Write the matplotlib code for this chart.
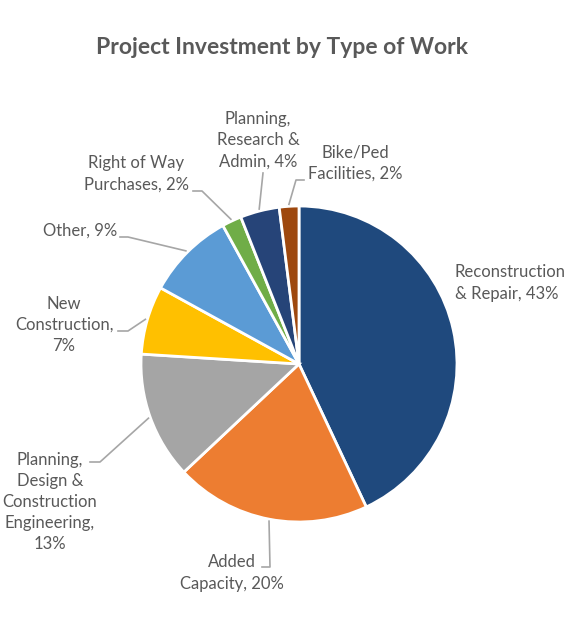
import numpy as np
import matplotlib.pyplot as plt

plt.rcParams['font.family'] = ['Lato', 'DejaVu Sans']

categories = ['Reconstruction\n& Repair, 43%', 'Added\nCapacity, 20%',
              'Planning,\nDesign &\nConstruction\nEngineering,\n13%',
              'New\nConstruction,\n7%', 'Other, 9%',
              'Right of Way\nPurchases, 2%', 'Planning,\nResearch &\nAdmin, 4%',
              'Bike/Ped\nFacilities, 2%']
shares = [43, 20, 13, 7, 9, 2, 4, 2]
colors = ['#1F497D', '#ED7D31', '#A5A5A5', '#FFC000', '#5B9BD5',
          '#70AD47', '#264478', '#9E480E']

W, H = 587, 629
cx, cy, r = 299, H - 364, 158
txt_col = '#595959'
line_col = '#A6A6A6'

fig = plt.figure(figsize=(W / 100, H / 100), dpi=100)
ax = fig.add_axes([0, 0, 1, 1])
wedges, _ = ax.pie(shares, colors=colors, startangle=90, counterclock=False,
                   center=(cx, cy), radius=r,
                   wedgeprops=dict(edgecolor='white', linewidth=2))
ax.set_xlim(0, W)
ax.set_ylim(0, H)
ax.axis('off')

# label placement: text centre (px, y down), alignment, leader elbow, leader start
layout = [
    ((455, 283), 'left', None, None),
    ((232, 573), 'center', (270, 567), (262, 567)),
    ((50, 502), 'center', (100, 462), (90, 462)),
    ((64, 325), 'center', (128, 331), (118, 331)),
    ((80, 231), 'center', (128, 237), (120, 237)),
    ((136, 174), 'center', (202, 191), (193, 191)),
    ((258, 140), 'center', (263, 173), None),
    ((355, 163), 'center', (296, 180), (304, 180)),
]

for w, lab, (pos, ha, elbow, start) in zip(wedges, categories, layout):
    x, y = pos
    ax.text(x, H - y, lab, ha=ha, va='center', fontsize=12, color=txt_col,
            linespacing=1.4, multialignment='center' if ha == 'center' else 'left')
    if elbow is None:
        continue
    mid = np.deg2rad((w.theta1 + w.theta2) / 2)
    ex, ey = cx + (r + 2) * np.cos(mid), cy + (r + 2) * np.sin(mid)
    xs = [elbow[0], ex]
    ys = [H - elbow[1], ey]
    if start is not None:
        xs = [start[0]] + xs
        ys = [H - start[1]] + ys
    ax.plot(xs, ys, color=line_col, linewidth=1.2)

ax.text(282, H - 48, 'Project Investment by Type of Work', ha='center',
        va='center', fontsize=16.5, fontweight='bold', color=txt_col)

fig.savefig('out.png', dpi=100)
